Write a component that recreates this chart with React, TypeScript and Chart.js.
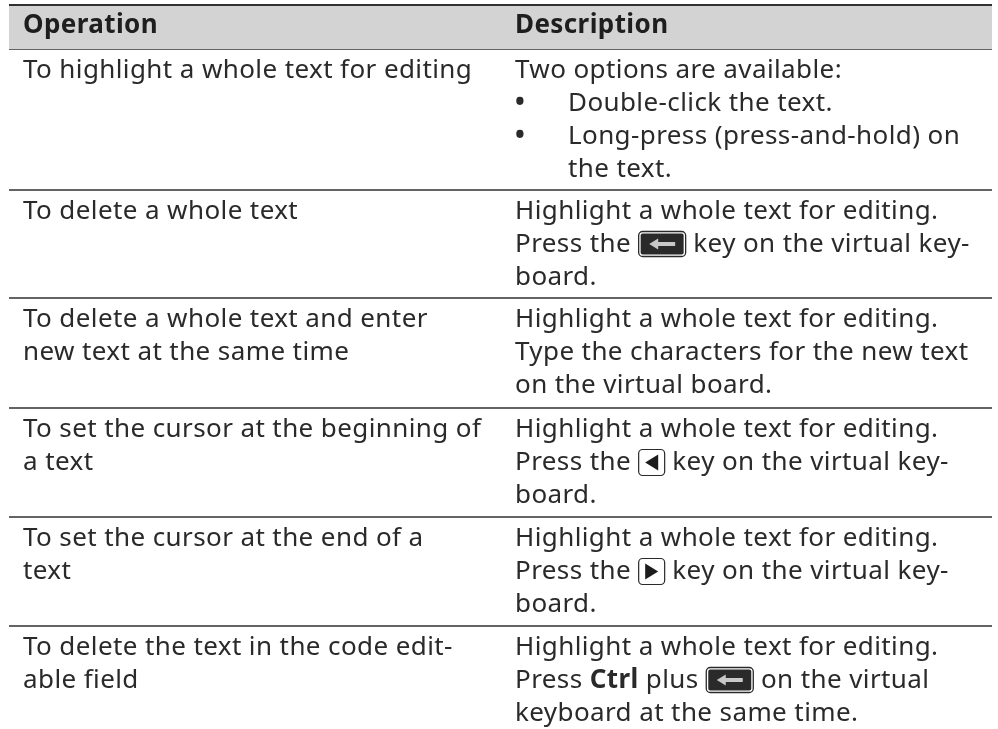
import React, { useEffect, useRef } from "react";
import { Chart, registerables } from "chart.js";

Chart.register(...registerables);

const headers = ["Operation", "Description"];
const ruleRows = [49, 190, 298, 408, 517, 626];
const topRule = 5;
const operations = [
  ["To highlight a whole text for editing"],
  ["To delete a whole text"],
  ["To delete a whole text and enter", "new text at the same time"],
  ["To set the cursor at the beginning of", "a text"],
  ["To set the cursor at the end of a", "text"],
  ["To delete the text in the code edit-", "able field"],
];
const descriptions = [
  ["Two options are available:", "*•*|Double-click the text.", "*•*|Long-press (press-and-hold) on", " |the text."],
  ["Highlight a whole text for editing.", "Press the {back} key on the virtual key-", "board."],
  ["Highlight a whole text for editing.", "Type the characters for the new text", "on the virtual board."],
  ["Highlight a whole text for editing.", "Press the {left} key on the virtual key-", "board."],
  ["Highlight a whole text for editing.", "Press the {right} key on the virtual key-", "board."],
  ["Highlight a whole text for editing.", "Press *Ctrl* plus {back} on the virtual", "keyboard at the same time."],
];

const FONT = '"Noto Sans"';
const SIZE = 26;
const SPACING = "0.4px";
const INK = "#2a2a2a";
const X0 = 9, X1 = 992, COL_A = 23, COL_B = 515, BULLET_INDENT = 53, LINE = 33, FIRST = 29;

function roundRect(ctx: CanvasRenderingContext2D, x: number, y: number, w: number, h: number, r: number) {
  ctx.beginPath();
  ctx.roundRect(x, y, w, h, r);
}

function drawIcon(ctx: CanvasRenderingContext2D, kind: string, x: number, base: number): number {
  const top = base - 21;
  if (kind === "back") {
    const w = 48, h = 26;
    ctx.fillStyle = INK;
    ctx.strokeStyle = INK;
    ctx.lineWidth = 1.3;
    roundRect(ctx, x + 0.5, top + 0.5, w - 1, h - 1, 4);
    ctx.stroke();
    roundRect(ctx, x + 2.5, top + 2.5, w - 5, h - 5, 2);
    ctx.fill();
    ctx.fillStyle = "#c8c8c8";
    ctx.fillRect(x + 18, top + 11, 19, 4);
    ctx.beginPath();
    ctx.moveTo(x + 11, top + 13);
    ctx.lineTo(x + 20, top + 7.5);
    ctx.lineTo(x + 20, top + 18.5);
    ctx.fill();
    return w;
  }
  const w = 27, h = 27;
  ctx.strokeStyle = INK;
  ctx.lineWidth = 1.2;
  roundRect(ctx, x + 0.5, top + 0.5, w - 1, h - 1, 4);
  ctx.stroke();
  ctx.fillStyle = "#1c1c1c";
  ctx.beginPath();
  if (kind === "left") {
    ctx.moveTo(x + 7, top + 13.5);
    ctx.lineTo(x + 20, top + 5.5);
    ctx.lineTo(x + 20, top + 21.5);
  } else {
    ctx.moveTo(x + 20, top + 13.5);
    ctx.lineTo(x + 7, top + 5.5);
    ctx.lineTo(x + 7, top + 21.5);
  }
  ctx.fill();
  return w;
}

function drawLine(ctx: CanvasRenderingContext2D, line: string, x: number, base: number) {
  const parts = line.split(/(\{[a-z]+\}|\*[^*]+\*)/).filter(Boolean);
  let cx = x;
  for (const p of parts) {
    if (p.startsWith("{")) {
      cx += drawIcon(ctx, p.slice(1, -1), cx, base);
    } else {
      const bold = p.startsWith("*");
      const t = bold ? p.slice(1, -1) : p;
      ctx.font = `${bold ? 700 : 400} ${SIZE}px ${FONT}`;
      ctx.fillStyle = INK;
      ctx.fillText(t, cx, base);
      cx += ctx.measureText(t).width;
    }
  }
}

const tablePlugin = {
  id: "tableText",
  afterDatasetsDraw(chart: any) {
    const { ctx, scales } = chart;
    const px = (v: number) => scales.x.getPixelForValue(v);
    const py = (v: number) => scales.y.getPixelForValue(v);
    ctx.save();
    ctx.textBaseline = "alphabetic";
    ctx.textAlign = "left";
    ctx.letterSpacing = SPACING;
    ctx.fillStyle = "#1e1e1e";
    ctx.font = `700 ${SIZE}px ${FONT}`;
    ctx.fillText(headers[0], px(COL_A), py(33));
    ctx.fillText(headers[1], px(COL_B), py(33));
    ruleRows.forEach((rule, i) => {
      operations[i].forEach((l, j) => drawLine(ctx, l, px(COL_A), py(rule + FIRST + j * LINE)));
      descriptions[i].forEach((l, j) => {
        const base = py(rule + FIRST + j * LINE);
        if (l.includes("|")) {
          const [b, t] = l.split("|");
          drawLine(ctx, b, px(COL_B), base);
          drawLine(ctx, t, px(COL_B + BULLET_INDENT), base);
        } else drawLine(ctx, l, px(COL_B), base);
      });
    });
    ctx.restore();
  },
};

export default function App() {
  const ref = useRef<HTMLCanvasElement | null>(null);
  useEffect(() => {
    const rule = (y: number, width: number) => ({
      data: [{ x: X0, y }, { x: X1, y }],
      borderColor: "#303030",
      borderWidth: width,
      pointRadius: 0,
      fill: false,
    });
    const chart = new Chart(ref.current!, {
      type: "line",
      data: {
        datasets: [
          { ...rule(topRule, 2), fill: "+1", backgroundColor: "#d3d3d3" },
          ...ruleRows.map((y) => rule(y, 1.5)),
        ] as any,
      },
      options: {
        responsive: false,
        animation: false,
        layout: { padding: 0 },
        plugins: { legend: { display: false }, tooltip: { enabled: false } },
        scales: {
          x: { type: "linear", display: false, min: 0, max: 998 },
          y: { type: "linear", display: false, min: 0, max: 729, reverse: true },
        },
      },
      plugins: [tablePlugin],
    });
    return () => chart.destroy();
  }, []);
  return (
    <div style={{ position: "fixed", left: 0, top: 0, width: 998, height: 729, background: "#fff" }}>
      <canvas ref={ref} width={998} height={729} style={{ display: "block" }} />
    </div>
  );
}
